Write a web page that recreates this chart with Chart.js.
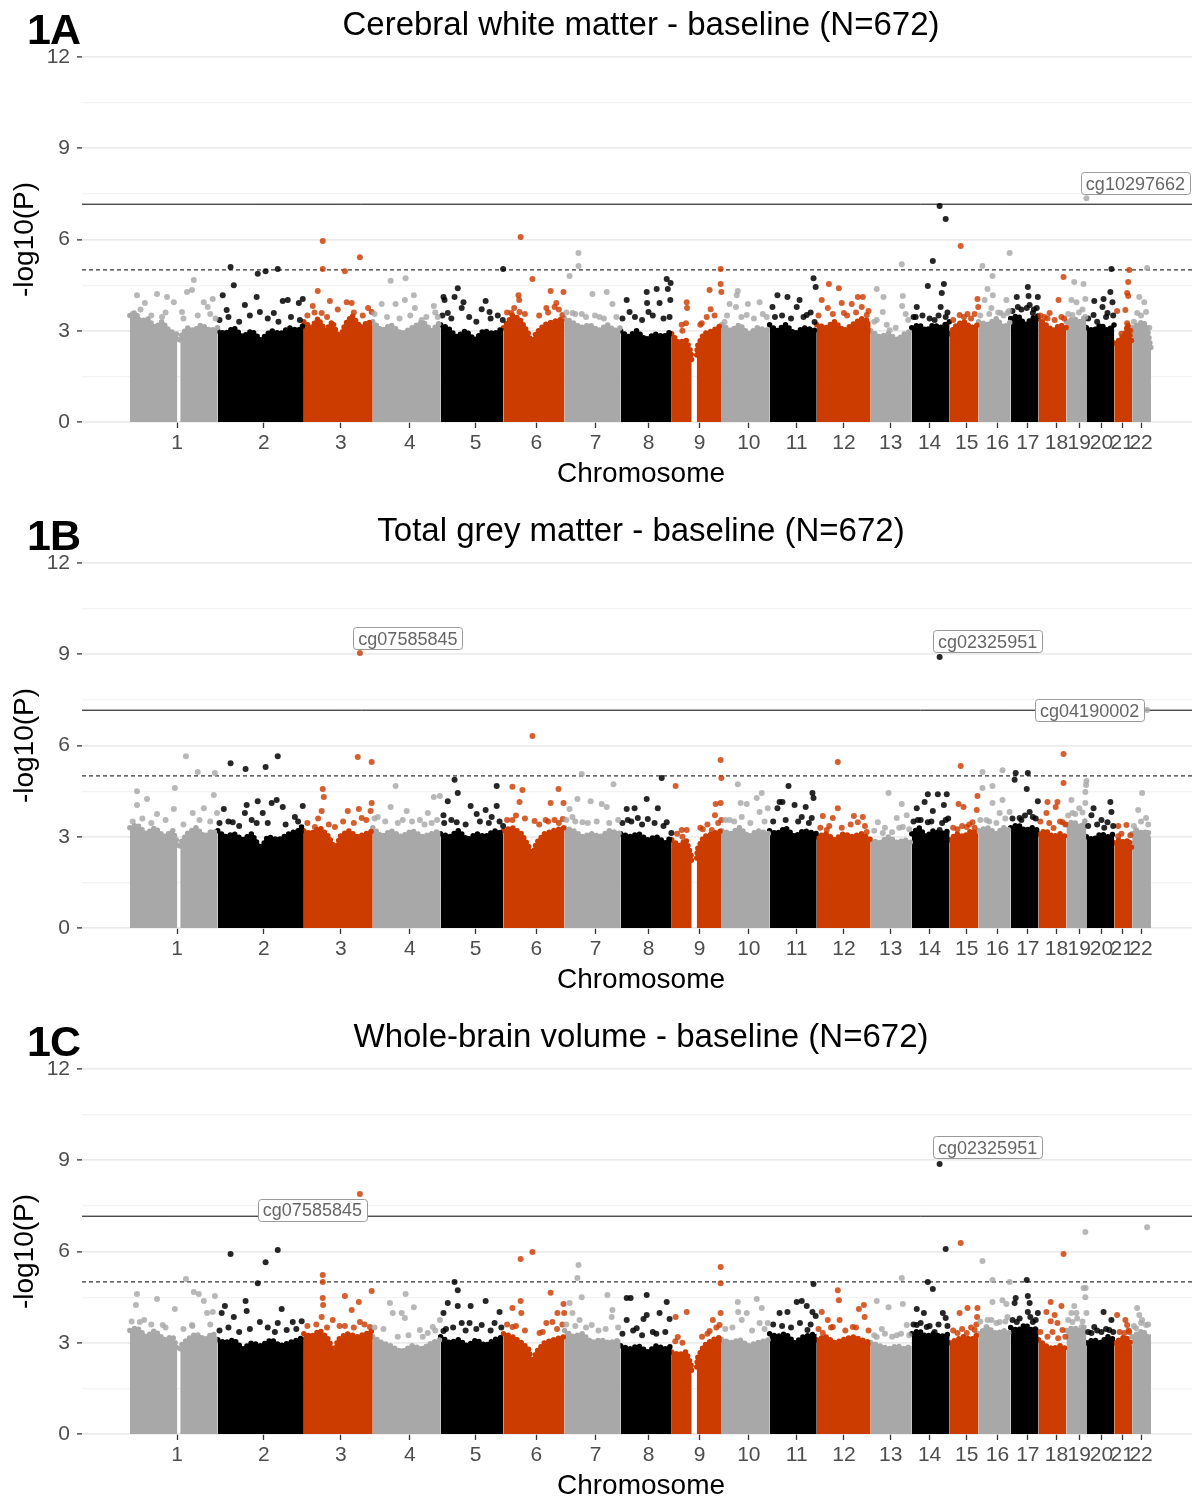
<!DOCTYPE html>
<html>
<head>
<meta charset="utf-8">
<script src="https://cdn.jsdelivr.net/npm/chart.js@4.4.1/dist/chart.umd.min.js"></script>
<style>
  body { margin: 0; background: #fff; }
  #page { position: relative; width: 1192px; height: 1499px; overflow: hidden; background: #fff; }
  .panel { position: absolute; left: 0; width: 1200px; height: 506px; }
  .tag { position: absolute; left: 27px; top: 8px; font: bold 43px 'Liberation Sans', Arial, sans-serif;
         line-height: 43px; letter-spacing: -1px; color: #000; }
  .title { position: absolute; left: 0; top: 7px; width: 1282px; text-align: center;
           font: 33px 'Liberation Sans', Arial, sans-serif; line-height: 33px; color: #000; white-space: nowrap; }
</style>
</head>
<body>
<div id="page">
  <div class="panel" style="top:0px"><canvas id="chartA" width="1200" height="506"></canvas>
    <div class="title">Cerebral white matter - baseline (N=672)</div><div class="tag">1A</div></div>
  <div class="panel" style="top:506px"><canvas id="chartB" width="1200" height="506"></canvas>
    <div class="title">Total grey matter - baseline (N=672)</div><div class="tag">1B</div></div>
  <div class="panel" style="top:1012px"><canvas id="chartC" width="1200" height="506"></canvas>
    <div class="title">Whole-brain volume - baseline (N=672)</div><div class="tag">1C</div></div>
</div>
<script>
// chromosomes, plotted span (Mb) and where each label tick sits inside it
const chromosomes = ['1','2','3','4','5','6','7','8','9','10','11','12','13','14','15','16','17','18','19','20','21','22'];
const chromLengthMb = [246,241,193,190,176,171,157,143,140,134,132,151,115,106,81,90,78,78,56,78,50,53];
const chromTickMb = [132,129,104,104,98,92,87,78,78,76,76,76,56,50,48,53,48,50,36,42,22,25];

const genomeWideLine = 7.16;
const suggestiveLine = 5;
const yTicks = [0, 1.5, 3, 4.5, 6, 7.5, 9, 10.5, 12];

// upper edge of the dense cloud of CpGs, per chromosome: [position Mb, -log10 P]
// (null = centromere gap)
const massA = [
  [[0,3.5],[15,3.6],[30,3.3],[50,3.4],[70,3.1],[90,3.3],[110,3.0],[130,2.9],[133,2.7],[136,null],[141,2.7],[142,2.8],[160,3.1],[180,3.0],[200,3.2],[225,3.0],[246,3.1]],
  [[0,3.0],[20,2.9],[45,3.1],[70,2.8],[95,3.0],[120,2.7],[150,3.0],[175,2.9],[200,3.1],[225,3.0],[241,3.2]],
  [[0,3.3],[20,3.1],[40,3.4],[60,3.0],[80,3.3],[100,2.7],[115,3.2],[135,3.5],[160,3.1],[180,3.3],[193,3.2]],
  [[0,3.3],[25,3.0],[50,3.2],[80,2.9],[110,3.1],[140,3.3],[165,3.0],[190,3.3]],
  [[0,3.2],[20,3.1],[45,2.8],[70,3.0],[95,2.7],[120,3.0],[150,2.9],[176,3.1]],
  [[0,3.1],[25,3.5],[45,3.4],[70,2.9],[80,2.5],[90,2.9],[115,3.2],[140,3.3],[171,3.4]],
  [[0,3.4],[20,3.3],[45,3.1],[70,3.2],[95,3.0],[120,3.2],[140,3.0],[157,3.1]],
  [[0,3.0],[20,2.8],[45,3.0],[70,2.7],[95,2.9],[120,2.8],[143,3.0]],
  [[0,2.9],[20,2.6],[40,2.7],[54,2.3],[56,2.0],[62,null],[70,2.2],[72,2.5],[90,2.9],[115,3.0],[140,3.2]],
  [[0,3.2],[25,3.0],[50,3.2],[75,2.9],[100,3.1],[134,3.0]],
  [[0,3.2],[20,3.0],[45,3.2],[70,2.9],[95,3.1],[132,3.0]],
  [[0,3.2],[25,3.1],[50,3.3],[75,3.0],[100,3.2],[125,3.4],[151,3.3]],
  [[0,3.0],[25,2.8],[50,2.9],[75,2.7],[95,2.9],[115,3.0]],
  [[0,3.1],[20,3.2],[40,3.0],[60,3.2],[80,3.1],[106,3.3]],
  [[0,2.9],[20,3.2],[40,3.3],[60,3.1],[81,3.2]],
  [[0,3.3],[25,3.2],[50,3.4],[70,3.1],[90,3.3]],
  [[0,3.4],[20,3.5],[40,3.2],[60,3.4],[78,3.5]],
  [[0,3.4],[20,3.2],[40,3.0],[60,3.2],[78,3.1]],
  [[0,3.3],[20,3.4],[40,3.3],[56,3.5]],
  [[0,3.1],[20,3.0],[40,3.2],[60,3.0],[78,3.2]],
  [[0,2.6],[15,2.7],[30,2.9],[38,3.2],[45,2.8],[50,2.6]],
  [[0,3.1],[15,3.2],[30,3.3],[42,3.1],[53,2.4]]
];
const massB = [
  [[0,3.3],[20,3.4],[45,3.1],[70,3.3],[95,3.0],[120,3.2],[130,2.9],[133,2.7],[136,null],[141,2.7],[142,2.8],[160,3.1],[185,3.3],[210,3.0],[230,3.2],[246,3.1]],
  [[0,3.2],[20,3.0],[45,3.1],[70,2.9],[95,3.1],[120,2.6],[140,3.0],[170,2.9],[200,3.1],[225,3.2],[241,3.4]],
  [[0,3.2],[20,3.1],[45,3.3],[70,3.0],[90,2.5],[100,3.0],[125,3.2],[150,3.0],[175,3.1],[193,3.2]],
  [[0,3.3],[25,3.0],[50,3.2],[80,3.0],[110,3.2],[140,3.0],[165,3.1],[190,3.2]],
  [[0,3.1],[25,3.0],[50,3.2],[75,2.9],[100,3.1],[125,3.0],[150,3.2],[176,3.1]],
  [[0,3.2],[25,3.3],[50,3.1],[70,2.7],[80,2.3],[92,2.8],[115,3.1],[140,3.2],[171,3.3]],
  [[0,3.3],[25,3.2],[50,3.0],[75,3.1],[100,3.0],[125,3.2],[157,3.1]],
  [[0,3.1],[25,3.0],[50,3.1],[75,2.9],[100,3.0],[125,2.8],[143,3.0]],
  [[0,2.9],[20,2.7],[40,2.9],[54,2.4],[56,2.1],[62,null],[70,2.3],[72,2.6],[90,3.0],[115,3.1],[140,3.2]],
  [[0,3.2],[25,3.1],[50,3.3],[75,3.0],[100,3.2],[134,3.1]],
  [[0,3.2],[20,3.1],[45,3.3],[70,3.0],[95,3.2],[132,3.1]],
  [[0,3.0],[25,3.1],[50,2.9],[75,3.1],[100,3.0],[125,3.1],[151,2.9]],
  [[0,2.9],[25,2.8],[50,3.0],[75,2.8],[95,2.9],[115,2.8]],
  [[0,3.1],[20,3.3],[40,3.0],[60,3.2],[80,3.1],[106,3.2]],
  [[0,2.9],[20,3.1],[40,3.0],[60,3.2],[81,3.1]],
  [[0,3.2],[25,3.3],[50,3.1],[70,3.3],[90,3.2]],
  [[0,3.3],[20,3.4],[40,3.2],[60,3.3],[78,3.2]],
  [[0,3.1],[20,3.2],[40,3.0],[60,3.1],[78,3.0]],
  [[0,3.4],[20,3.5],[40,3.3],[56,3.6]],
  [[0,3.0],[20,2.9],[40,3.1],[60,3.0],[78,3.1]],
  [[0,2.8],[15,2.9],[30,2.8],[40,2.9],[50,2.6]],
  [[0,3.1],[15,3.2],[30,3.1],[42,3.2],[53,3.0]]
];
const massC = [
  [[0,3.4],[20,3.5],[45,3.2],[70,3.4],[95,3.1],[120,3.2],[130,2.9],[133,2.7],[136,null],[141,2.8],[142,2.9],[160,3.1],[185,3.3],[210,3.1],[230,3.3],[246,3.2]],
  [[0,3.1],[20,3.0],[45,3.1],[70,2.8],[95,3.0],[120,2.9],[150,3.1],[175,2.9],[200,3.0],[225,3.1],[241,3.2]],
  [[0,3.3],[20,3.2],[45,3.4],[70,3.1],[85,2.6],[95,3.1],[120,3.3],[150,3.2],[175,3.3],[193,3.4]],
  [[0,3.2],[25,3.0],[50,2.9],[80,2.7],[110,2.9],[140,2.8],[165,3.0],[190,3.1]],
  [[0,3.2],[25,3.0],[50,3.1],[75,2.9],[100,3.1],[125,2.9],[150,3.1],[176,3.2]],
  [[0,3.3],[25,3.2],[50,3.0],[70,2.8],[80,2.3],[92,2.7],[115,3.0],[140,3.1],[171,3.2]],
  [[0,3.4],[25,3.2],[50,3.3],[75,3.0],[100,3.1],[125,3.0],[157,3.1]],
  [[0,2.9],[25,2.8],[50,2.9],[75,2.7],[100,2.9],[125,2.8],[143,2.9]],
  [[0,2.7],[20,2.6],[40,2.7],[54,2.3],[56,2.0],[62,null],[70,2.2],[72,2.5],[90,2.9],[115,3.1],[140,3.2]],
  [[0,3.1],[25,3.0],[50,3.1],[75,2.9],[100,3.0],[134,3.1]],
  [[0,3.3],[20,3.2],[45,3.3],[70,3.0],[95,3.2],[132,3.3]],
  [[0,3.1],[25,3.2],[50,3.0],[75,3.1],[100,3.2],[125,3.1],[151,3.0]],
  [[0,3.0],[25,2.9],[50,2.8],[75,2.9],[95,2.8],[115,2.9]],
  [[0,3.3],[20,3.4],[40,3.2],[60,3.3],[80,3.2],[106,3.3]],
  [[0,3.0],[20,3.1],[40,3.2],[60,3.1],[81,3.3]],
  [[0,3.3],[25,3.5],[50,3.3],[70,3.4],[90,3.3]],
  [[0,3.5],[20,3.4],[40,3.6],[60,3.4],[78,3.5]],
  [[0,3.1],[20,2.9],[40,2.8],[60,2.9],[78,2.8]],
  [[0,3.4],[20,3.5],[40,3.4],[56,3.6]],
  [[0,3.0],[20,3.1],[40,3.0],[60,3.2],[78,3.1]],
  [[0,3.0],[15,3.1],[30,3.2],[40,3.1],[50,2.9]],
  [[0,3.2],[15,3.3],[30,3.4],[42,3.2],[53,3.3]]
];

// individual CpGs standing out of the cloud: [chromosome, position Mb, -log10 P]
const hitsA = [
  [1,20,4.17],[1,42,3.91],[1,76,4.21],[1,104,4.11],[1,123,3.94],[1,160,4.27],[1,179,4.67],[1,174,4.34],[1,207,3.94],[1,232,4.04],[1,218,3.78],[1,146,3.62],[1,90,3.45],
  [2,36,5.1],[2,45,4.5],[2,14,4.17],[2,112,4.87],[2,134,4.96],[2,168,5.03],[2,109,4.11],[2,182,3.98],[2,196,4.01],[2,227,3.91],[2,238,4.04],[2,25,3.68],[2,76,3.85],[2,157,3.58],[2,118,3.62],
  [3,53,5.95],[3,53,5.03],[3,115,4.96],[3,157,5.42],[3,39,4.31],[3,25,3.81],[3,73,3.98],[3,120,3.94],[3,134,3.91],[3,190,3.62],[3,50,3.58],
  [4,50,4.64],[4,25,3.88],[4,64,3.88],[4,92,4.73],[4,115,4.17],[4,90,4.01],[4,118,3.75],[4,171,3.81],[4,182,3.45],[4,137,3.35],
  [5,8,4.11],[5,48,4.4],[5,39,4.11],[5,64,3.94],[5,126,3.98],[5,11,4.01],[5,115,3.71],[5,59,3.75],[5,137,3.62],[5,20,3.58],[5,174,3.35],[5,175,5.03],
  [6,48,6.08],[6,81,4.7],[6,132,4.31],[6,168,4.27],[6,42,4.17],[6,44,4.01],[6,120,3.75],[6,148,3.91],[6,143,3.78],[6,165,3.52],[6,22,3.58],[6,45,3.62],
  [7,39,5.56],[7,39,5.13],[7,14,4.8],[7,78,4.21],[7,118,4.27],[7,134,3.88],[7,22,3.58],[7,98,3.45],[7,48,3.55],
  [8,129,4.7],[8,140,4.57],[8,132,4.37],[8,101,4.37],[8,73,4.27],[8,139,4.01],[8,17,4.01],[8,74,3.91],[8,109,3.91],[8,25,3.62],[8,78,3.62],[8,137,3.45],
  [9,137,5.03],[9,137,4.54],[9,139,4.27],[9,106,4.34],[9,42,3.94],[9,43,3.75],[9,109,3.71],[9,84,3.25],[9,98,3.45],[9,40,3.25],[9,28,3.2],
  [10,45,4.31],[10,42,4.17],[10,22,3.88],[10,40,3.78],[10,73,3.88],[10,106,3.94],[10,70,3.52],[10,126,3.45],[10,8,3.29],
  [11,22,4.17],[11,50,4.11],[11,8,3.78],[11,76,3.78],[11,123,4.73],[11,129,4.44],[11,84,4.01],[11,104,3.52],[11,126,3.29],
  [12,34,4.54],[12,62,4.4],[12,14,4.01],[12,31,3.75],[12,70,3.91],[12,98,3.88],[12,115,4.11],[12,129,4.11],[12,126,3.78],[12,140,3.52],[12,76,3.58],
  [13,17,4.37],[13,36,4.11],[13,87,5.19],[13,90,4.14],[13,88,3.81],[13,98,3.55],[13,17,3.35],[13,34,3.62],[13,53,3.02],
  [14,78,7.1],[14,95,6.67],[14,59,5.29],[14,45,4.47],[14,90,4.54],[14,84,4.24],[14,14,3.78],[14,81,3.78],[14,11,3.45],[14,95,3.45],[14,64,3.35],
  [15,31,5.79],[15,78,4.04],[15,80,3.78],[15,28,3.52],[15,50,3.55],[15,70,3.55],
  [16,87,5.56],[16,11,5.13],[16,39,4.8],[16,25,4.37],[16,40,4.17],[16,17,4.01],[16,78,4.01],[16,36,3.75],[16,62,3.58],[16,81,3.58],
  [17,48,4.44],[17,17,4.11],[17,50,4.14],[17,76,4.11],[17,53,3.85],[17,73,3.75],[17,20,3.78],[17,62,3.58],
  [18,70,4.77],[18,56,4.01],[18,31,3.58],[18,64,3.45],[18,17,3.45],
  [19,56,7.36],[19,22,4.6],[19,48,4.54],[19,14,4.01],[19,28,3.94],[19,53,4.04],[19,17,3.52],[19,53,3.45],
  [20,70,5.03],[20,67,4.27],[20,22,3.98],[20,48,4.04],[20,73,3.94],[20,20,3.52],[20,45,3.78],[20,59,3.58],
  [21,42,5.0],[21,39,4.6],[21,36,4.24],[21,39,4.14],[21,8,3.65],[21,31,3.68],[21,36,3.25],
  [22,42,5.06],[22,20,4.11],[22,34,3.94],[22,39,3.62],[22,14,3.58]
];
const hitsB = [
  [1,157,5.65],[1,190,5.13],[1,238,5.1],[1,20,4.5],[1,48,4.24],[1,126,4.6],[1,235,4.37],[1,20,4.04],[1,123,3.91],[1,176,3.78],[1,207,3.94],[1,76,3.75],[1,244,3.78],
  [2,36,5.42],[2,78,5.23],[2,134,5.29],[2,168,5.65],[2,17,3.91],[2,81,4.04],[2,112,4.17],[2,151,4.11],[2,165,4.21],[2,182,3.98],[2,238,4.01],[2,76,3.78],[2,126,3.78],[2,42,3.48],[2,109,3.45],[2,216,3.65],
  [3,157,9.04],[3,151,5.62],[3,190,5.46],[3,53,4.57],[3,56,4.31],[3,190,4.11],[3,50,3.85],[3,123,3.85],[3,154,3.91],[3,162,3.62],[3,187,3.85],[3,87,3.32],[3,31,3.32],
  [4,64,4.67],[4,50,3.98],[4,14,3.65],[4,95,3.85],[4,171,4.31],[4,188,4.34],[4,154,3.78],[4,132,3.55],[4,84,3.55],[4,165,3.45],
  [5,39,4.87],[5,48,4.44],[5,20,4.17],[5,157,4.67],[5,84,4.01],[5,157,4.01],[5,126,3.88],[5,101,3.75],[5,8,3.71],[5,45,3.48],[5,143,3.65],[5,175,3.35],
  [6,81,6.31],[6,25,4.64],[6,53,4.54],[6,154,4.57],[6,132,4.11],[6,168,4.11],[6,45,4.14],[6,25,3.55],[6,87,3.52],[6,118,3.55],[6,143,3.55],[6,166,3.58],
  [7,48,5.06],[7,137,4.73],[7,36,4.24],[7,73,4.17],[7,104,4.08],[7,118,3.98],[7,14,3.91],[7,22,3.65],[7,50,3.48],
  [8,115,4.93],[8,73,4.24],[8,104,3.94],[8,17,3.91],[8,39,3.94],[8,48,3.62],[8,76,3.58],[8,20,3.55],[8,129,3.48],[8,142,3.12],
  [9,11,4.67],[9,137,5.52],[9,139,4.93],[9,123,4.08],[9,137,4.11],[9,121,3.71],[9,42,3.22],[9,28,3.22],[9,87,3.25],[9,112,3.22],[9,139,3.55],
  [10,45,4.73],[10,112,4.44],[10,98,4.27],[10,53,4.11],[10,70,4.08],[10,106,3.81],[10,56,3.65],[10,129,3.94],[10,22,3.55],
  [11,53,4.67],[11,28,4.14],[11,36,4.14],[11,22,3.94],[11,70,4.04],[11,120,4.44],[11,123,4.27],[11,101,3.98],[11,90,3.65],[11,118,3.62],
  [12,59,5.46],[12,59,3.94],[12,17,3.68],[12,45,3.62],[12,104,3.68],[12,129,3.65],[12,115,3.48],[12,140,3.16],[12,28,3.22],
  [13,50,4.44],[13,87,4.08],[13,73,3.62],[13,101,3.71],[13,20,3.48],[13,90,3.32],[13,34,3.12],
  [14,78,8.91],[14,45,4.4],[14,73,4.4],[14,98,4.4],[14,36,4.14],[14,14,3.94],[14,59,3.85],[14,90,4.04],[14,17,3.55],[14,45,3.48],[14,95,3.55],[14,78,3.22],
  [15,31,5.33],[15,25,4.08],[15,39,3.98],[15,78,4.34],[15,76,3.88],[15,64,3.48],[15,22,3.25],[15,48,3.32],
  [16,11,5.13],[16,67,5.19],[16,11,4.6],[16,39,4.67],[16,67,4.21],[16,39,4.11],[16,59,3.78],[16,87,3.81],[16,22,3.55],
  [17,14,5.1],[17,48,5.1],[17,11,4.87],[17,45,4.57],[17,76,4.17],[17,53,3.81],[17,25,3.62],[17,62,3.65],
  [18,70,5.72],[18,70,4.77],[18,25,4.14],[18,53,4.14],[18,67,3.48],[18,48,3.98],[18,22,3.78],[18,42,3.29],
  [19,56,4.83],[19,53,4.47],[19,14,4.21],[19,53,4.11],[19,36,3.94],[19,17,3.78],[19,55,4.7],
  [20,67,4.14],[20,20,3.94],[20,70,3.81],[20,42,3.55],[20,14,3.71],[20,59,3.48],
  [21,11,3.35],[21,34,3.39],[21,11,3.02],
  [22,42,7.17],[22,28,4.44],[22,17,3.88],[22,39,3.62],[22,11,3.22]
];
const hitsC = [
  [1,157,5.1],[1,20,4.6],[1,76,4.44],[1,179,4.67],[1,193,4.6],[1,238,4.54],[1,207,4.37],[1,17,4.24],[1,126,4.11],[1,216,3.98],[1,232,4.01],[1,174,3.58],[1,92,3.58],[1,28,3.68],
  [2,36,5.92],[2,134,5.65],[2,168,6.05],[2,112,4.96],[2,78,4.37],[2,81,4.04],[2,20,4.21],[2,179,4.11],[2,11,3.98],[2,45,3.85],[2,118,3.68],[2,168,3.65],[2,210,3.68],[2,235,3.71],[2,193,3.42],
  [3,157,7.89],[3,53,5.23],[3,53,5.0],[3,53,4.47],[3,54,4.24],[3,115,4.54],[3,154,4.34],[3,190,4.7],[3,134,4.08],[3,157,3.68],[3,50,3.85],[3,81,3.75],[3,115,3.55],[3,185,3.52],
  [4,48,4.31],[4,56,3.98],[4,92,4.6],[4,115,4.17],[4,81,3.98],[4,90,3.81],[4,132,3.42],[4,168,3.52],[4,188,3.75],[4,154,3.32],
  [5,39,5.0],[5,48,4.73],[5,20,4.31],[5,48,4.21],[5,84,4.21],[5,126,4.37],[5,8,3.98],[5,165,4.01],[5,59,3.65],[5,81,3.65],[5,115,3.58],[5,151,3.65],[5,8,3.39],
  [6,48,5.75],[6,81,5.98],[6,132,4.64],[6,168,4.27],[6,48,4.37],[6,25,4.14],[6,50,3.98],[6,151,3.98],[6,170,3.98],[6,120,3.65],[6,137,3.68],[6,25,3.52],[6,101,3.32],
  [7,39,5.56],[7,36,5.13],[7,48,4.5],[7,120,4.57],[7,14,4.31],[7,134,4.08],[7,22,3.98],[7,42,3.75],[7,76,3.58],[7,132,3.85],
  [8,73,4.57],[8,17,4.47],[8,28,4.47],[8,129,4.34],[8,73,3.91],[8,17,3.75],[8,64,3.78],[8,109,3.98],[8,137,3.78],[8,45,3.48],[8,90,3.35],
  [9,137,5.49],[9,137,4.96],[9,42,4.01],[9,137,3.98],[9,115,3.75],[9,106,3.39],[9,134,3.58],[9,11,3.85],[9,17,3.19],
  [10,45,4.34],[10,98,4.44],[10,46,4.01],[10,70,3.98],[10,112,4.14],[10,56,3.75],[10,106,3.65],[10,129,3.65],
  [11,76,4.34],[11,28,3.98],[11,50,4.01],[11,123,4.93],[11,90,4.37],[11,104,4.21],[11,120,4.01],[11,129,3.88],[11,106,3.42],
  [12,59,4.73],[12,62,4.4],[12,14,4.01],[12,31,3.75],[12,64,3.75],[12,118,4.11],[12,132,4.24],[12,134,3.85],[12,101,3.52],[12,45,3.52],[12,17,3.32],
  [13,87,5.13],[13,17,4.37],[13,50,4.17],[13,90,4.27],[13,101,3.58],[13,31,3.45],[13,73,3.25],[13,17,3.19],
  [14,78,8.88],[14,95,6.08],[14,45,5.0],[14,59,4.77],[14,14,4.11],[14,34,3.98],[14,87,3.98],[14,95,3.81],[14,14,3.58],[14,42,3.52],[14,64,3.35],
  [15,31,6.28],[15,50,4.14],[15,28,3.98],[15,78,4.14],[15,22,3.32],[15,48,3.32],[15,70,3.42],[15,77,3.85],
  [16,11,5.69],[16,39,5.06],[16,39,4.34],[16,67,4.4],[16,78,4.27],[16,36,3.75],[16,59,3.68],[16,81,3.85],[16,22,3.52],[16,87,5.0],
  [17,45,5.06],[17,48,4.54],[17,14,4.47],[17,11,4.31],[17,53,4.31],[17,48,4.01],[17,76,3.98],[17,17,3.68],[17,62,3.68],[17,36,3.42],
  [18,70,5.92],[18,34,4.34],[18,64,4.21],[18,22,4.01],[18,45,3.91],[18,34,3.71],[18,53,3.65],[18,39,3.35],[18,67,3.42],
  [19,53,6.64],[19,48,4.8],[19,54,4.8],[19,53,4.5],[19,22,4.21],[19,14,3.98],[19,28,3.98],[19,56,3.98],[19,17,3.68],[19,42,3.52],
  [20,48,4.01],[20,70,3.75],[20,22,3.52],[20,42,3.35],[20,14,3.32],[20,64,3.42],
  [21,8,3.91],[21,31,3.75],[21,36,3.58],[21,28,3.32],[21,42,3.35],
  [22,42,6.8],[22,14,4.14],[22,20,3.91],[22,39,3.58],[22,11,3.48],[22,28,3.75]
];

// CpGs crowding just above the cloud edge: [chromosome, position Mb, -log10 P]
const crowdA = [
  [1,8,3.55],[1,30,3.7],[1,60,3.5],[1,100,3.6],[1,150,3.4],[1,190,3.5],[1,225,3.55],[1,240,3.4],
  [2,5,3.35],[2,30,3.45],[2,60,3.3],[2,90,3.5],[2,140,3.4],[2,170,3.3],[2,205,3.45],[2,230,3.35],
  [3,10,3.5],[3,30,3.6],[3,65,3.45],[3,95,3.7],[3,140,3.6],[3,165,3.5],[3,180,3.75],
  [4,5,3.55],[4,40,3.45],[4,75,3.4],[4,105,3.5],[4,150,3.45],[4,175,3.6],
  [5,5,3.5],[5,30,3.4],[5,80,3.45],[5,100,3.3],[5,140,3.4],[5,160,3.5],
  [6,10,3.6],[6,30,3.75],[6,60,3.55],[6,100,3.5],[6,125,3.6],[6,155,3.7],
  [7,5,3.6],[7,30,3.55],[7,60,3.45],[7,85,3.5],[7,110,3.4],[7,145,3.45],
  [8,5,3.4],[8,40,3.45],[8,60,3.35],[8,90,3.5],[8,120,3.4],
  [9,30,3.0],[9,80,3.2],[9,120,3.5],
  [10,15,3.5],[10,55,3.45],[10,90,3.4],[10,115,3.55],
  [11,15,3.45],[11,35,3.5],[11,60,3.4],[11,95,3.45],[11,115,3.6],
  [12,5,3.5],[12,45,3.55],[12,85,3.5],[12,110,3.6],[12,145,3.65],
  [13,10,3.3],[13,45,3.2],[13,70,3.1],[13,105,3.35],
  [14,5,3.45],[14,30,3.5],[14,50,3.4],[14,75,3.5],[14,100,3.6],
  [15,10,3.35],[15,40,3.45],[15,60,3.4],
  [16,5,3.5],[16,30,3.55],[16,55,3.6],[16,70,3.5],[16,85,3.65],
  [17,5,3.65],[17,30,3.7],[17,45,3.75],[17,65,3.7],
  [18,5,3.5],[18,25,3.4],[18,45,3.35],[18,72,3.4],
  [19,5,3.55],[19,35,3.6],[19,45,3.7],
  [20,5,3.4],[20,30,3.3],[20,55,3.45],[20,75,3.5],
  [21,20,2.9],[21,45,3.0],
  [22,5,3.3],[22,25,3.5],[22,48,3.1]
];
const crowdB = [
  [1,8,3.5],[1,35,3.6],[1,60,3.45],[1,100,3.55],[1,150,3.4],[1,195,3.55],[1,225,3.5],
  [2,5,3.45],[2,30,3.5],[2,60,3.35],[2,95,3.55],[2,140,3.45],[2,190,3.4],[2,225,3.5],
  [3,10,3.45],[3,40,3.6],[3,70,3.4],[3,110,3.5],[3,140,3.45],[3,175,3.55],
  [4,5,3.6],[4,35,3.5],[4,70,3.45],[4,110,3.5],[4,145,3.4],[4,180,3.55],
  [5,10,3.45],[5,30,3.55],[5,70,3.4],[5,110,3.5],[5,135,3.45],[5,165,3.5],
  [6,10,3.55],[6,35,3.7],[6,60,3.6],[6,100,3.4],[6,125,3.5],[6,155,3.45],
  [7,5,3.55],[7,30,3.5],[7,65,3.45],[7,90,3.5],[7,125,3.45],[7,150,3.55],
  [8,5,3.45],[8,30,3.5],[8,60,3.4],[8,95,3.45],[8,120,3.35],
  [9,15,3.1],[9,30,3.0],[9,80,3.3],[9,100,3.4],[9,130,3.45],
  [10,10,3.55],[10,35,3.5],[10,80,3.45],[10,120,3.5],
  [11,10,3.5],[11,45,3.55],[11,80,3.5],[11,110,3.45],
  [12,10,3.3],[12,35,3.35],[12,70,3.3],[12,95,3.4],[12,135,3.35],
  [13,10,3.2],[13,40,3.3],[13,60,3.15],[13,80,3.3],[13,108,3.25],
  [14,5,3.5],[14,25,3.55],[14,55,3.5],[14,85,3.45],[14,102,3.6],
  [15,10,3.3],[15,35,3.35],[15,55,3.4],[15,70,3.3],
  [16,5,3.55],[16,30,3.5],[16,50,3.45],[16,75,3.6],
  [17,5,3.6],[17,30,3.55],[17,40,3.7],[17,70,3.6],
  [18,5,3.5],[18,30,3.45],[18,60,3.5],[18,75,3.4],
  [19,5,3.7],[19,25,3.75],[19,45,3.8],
  [20,5,3.35],[20,30,3.4],[20,50,3.3],[20,75,3.35],
  [21,20,3.1],[21,45,3.05],
  [22,5,3.35],[22,25,3.5],[22,45,3.4]
];
const crowdC = [
  [1,5,3.7],[1,40,3.75],[1,60,3.6],[1,100,3.5],[1,150,3.45],[1,175,3.55],[1,225,3.6],
  [2,5,3.4],[2,30,3.5],[2,60,3.35],[2,90,3.45],[2,140,3.5],[2,160,3.35],[2,220,3.45],
  [3,10,3.55],[3,35,3.6],[3,65,3.5],[3,100,3.55],[3,140,3.5],[3,170,3.6],
  [4,5,3.5],[4,30,3.45],[4,70,3.2],[4,100,3.25],[4,140,3.2],[4,175,3.4],
  [5,15,3.45],[5,35,3.5],[5,70,3.4],[5,100,3.45],[5,140,3.4],[5,170,3.5],
  [6,10,3.6],[6,35,3.55],[6,60,3.4],[6,110,3.35],[6,150,3.45],[6,165,3.6],
  [7,5,3.6],[7,30,3.55],[7,60,3.5],[7,95,3.4],[7,115,3.45],[7,150,3.5],
  [8,5,3.3],[8,35,3.4],[8,60,3.25],[8,100,3.3],[8,125,3.35],
  [9,10,3.05],[9,30,3.0],[9,85,3.2],[9,100,3.3],[9,125,3.5],
  [10,10,3.45],[10,30,3.5],[10,85,3.4],[10,120,3.45],
  [11,10,3.6],[11,35,3.55],[11,60,3.5],[11,85,3.65],[11,115,3.6],
  [12,5,3.45],[12,40,3.5],[12,80,3.4],[12,110,3.5],[12,145,3.4],
  [13,10,3.25],[13,40,3.3],[13,60,3.2],[13,85,3.3],[13,108,3.25],
  [14,5,3.6],[14,25,3.65],[14,50,3.55],[14,75,3.6],[14,100,3.55],
  [15,10,3.4],[15,35,3.45],[15,60,3.5],[15,75,3.6],
  [16,5,3.7],[16,25,3.75],[16,50,3.65],[16,75,3.7],
  [17,5,3.75],[17,25,3.8],[17,55,3.85],[17,70,3.75],
  [18,5,3.35],[18,25,3.2],[18,55,3.15],[18,75,3.2],
  [19,5,3.75],[19,30,3.8],[19,45,3.7],
  [20,5,3.35],[20,30,3.4],[20,55,3.45],[20,75,3.35],
  [21,15,3.35],[21,40,3.4],
  [22,5,3.55],[22,25,3.65],[22,45,3.6]
];

// annotated probes
const labelsA = [{probe: 'cg10297662', chr: 19, pos: 56, p: 7.36}];
const labelsB = [
  {probe: 'cg07585845', chr: 3, pos: 157, p: 9.04},
  {probe: 'cg02325951', chr: 14, pos: 78, p: 8.91},
  {probe: 'cg04190002', chr: 22, pos: 42, p: 7.17}
];
const labelsC = [
  {probe: 'cg07585845', chr: 3, pos: 157, p: 7.89},
  {probe: 'cg02325951', chr: 14, pos: 78, p: 8.88}
];

const chromColors = ['#a8a8a8', '#000000', '#cc3c00'];
const dotColors = ['rgba(168,168,168,0.82)', 'rgba(0,0,0,0.85)', 'rgba(204,60,0,0.82)'];
const FONT = "'Liberation Sans', Arial, Helvetica, sans-serif";

const offsets = [];
let acc = 0;
chromLengthMb.forEach(len => { offsets.push(acc); acc += len; });
const xMin = -134, xMax = 2996;

Chart.defaults.font.family = FONT;
Chart.defaults.animation = false;

// ggrepel-style boxed labels next to the annotated points
const probeLabels = {
  id: 'probeLabels',
  afterDatasetsDraw(chart, args, opts) {
    const { ctx, scales: { x, y } } = chart;
    ctx.save();
    ctx.font = '18px ' + FONT;
    ctx.textAlign = 'center';
    ctx.textBaseline = 'middle';
    opts.items.forEach((lab, i) => {
      const cx = x.getPixelForValue(offsets[lab.chr - 1] + lab.pos) + opts.nudges[i][0];
      const cy = y.getPixelForValue(lab.p) + opts.nudges[i][1];
      const w = ctx.measureText(lab.probe).width + 10, h = 22;
      ctx.beginPath();
      ctx.roundRect(Math.round(cx - w / 2) + 0.5, Math.round(cy - h / 2) + 0.5, Math.round(w), h, 3);
      ctx.fillStyle = '#ffffff';
      ctx.fill();
      ctx.strokeStyle = '#9a9a9a';
      ctx.lineWidth = 1;
      ctx.stroke();
      ctx.fillStyle = '#666666';
      ctx.fillText(lab.probe, cx, cy + 1.5);
    });
    ctx.restore();
  }
};

function drawPanel(canvasId, mass, hits, crowd, labels, nudges) {
  const points = crowd.concat(hits);
  const datasets = [];
  for (let k = 0; k < 3; k++) {
    datasets.push({
      type: 'scatter',
      data: points.filter(h => (h[0] - 1) % 3 === k).map(h => ({ x: offsets[h[0] - 1] + h[1], y: h[2] })),
      backgroundColor: dotColors[k],
      borderWidth: 0,
      pointRadius: 3,
      order: 1
    });
  }
  datasets.push({
    type: 'line',
    data: [{ x: xMin, y: genomeWideLine }, { x: xMax, y: genomeWideLine }],
    borderColor: '#000000', borderWidth: 1, pointRadius: 0, fill: false, order: 2
  });
  datasets.push({
    type: 'line',
    data: [{ x: xMin, y: suggestiveLine }, { x: xMax, y: suggestiveLine }],
    borderColor: '#000000', borderWidth: 1, borderDash: [4, 3], pointRadius: 0, fill: false, order: 2
  });
  mass.forEach((env, i) => {
    datasets.push({
      type: 'line',
      data: env.map(v => ({ x: offsets[i] + v[0], y: v[1] })),
      // a beaded rim of round dots along the top of the cloud
      borderColor: chromColors[i % 3],
      borderWidth: 5.5,
      borderDash: [0, 5],
      borderCapStyle: 'round',
      backgroundColor: chromColors[i % 3],
      fill: 'origin',
      spanGaps: false,
      pointRadius: 0,
      tension: 0,
      order: 3
    });
  });

  new Chart(document.getElementById(canvasId), {
    type: 'scatter',
    data: { datasets },
    options: {
      responsive: false,
      animation: false,
      layout: { padding: { top: 57, left: 0, right: 0, bottom: 0 }, autoPadding: false },
      plugins: {
        legend: { display: false },
        tooltip: { enabled: false },
        title: { display: false },
        probeLabels: { items: labels, nudges: nudges }
      },
      scales: {
        x: {
          type: 'linear',
          min: xMin,
          max: xMax,
          afterBuildTicks: scale => {
            scale.ticks = chromTickMb.map((t, i) => ({ value: offsets[i] + t }));
          },
          afterFit: scale => { scale.height = 84; },
          ticks: {
            autoSkip: false,
            maxRotation: 0,
            minRotation: 0,
            padding: 3,
            color: '#4d4d4d',
            font: { size: 21 },
            callback: (v, i) => chromosomes[i]
          },
          grid: { drawOnChartArea: false, drawTicks: true, tickLength: 6, tickColor: '#333', tickWidth: 1.3 },
          border: { display: false },
          title: {
            display: true,
            text: 'Chromosome',
            color: '#000',
            font: { size: 28 },
            padding: { top: 0, bottom: 15 }
          }
        },
        y: {
          min: 0,
          max: 12,
          afterBuildTicks: scale => { scale.ticks = yTicks.map(v => ({ value: v })); },
          afterFit: scale => { scale.width = 82; },
          ticks: {
            padding: 7,
            color: '#4d4d4d',
            font: { size: 21 },
            callback: v => (v % 3 === 0 ? String(v) : '')
          },
          grid: {
            color: c => (c.tick && c.tick.value % 3 === 0 ? '#ebebeb' : '#f3f3f3'),
            lineWidth: c => (c.tick && c.tick.value % 3 === 0 ? 1.8 : 1.2),
            tickColor: c => (c.tick && c.tick.value % 3 === 0 ? '#333' : 'rgba(0,0,0,0)'),
            tickLength: 5,
            tickWidth: 1.3
          },
          border: { display: false },
          title: {
            display: true,
            text: '-log10(P)',
            color: '#000',
            font: { size: 28 },
            padding: { top: 8, bottom: 0 }
          }
        }
      }
    },
    plugins: [probeLabels]
  });
}

drawPanel('chartA', massA, hitsA, crowdA, labelsA, [[49, -15]]);
drawPanel('chartB', massB, hitsB, crowdB, labelsB, [[48, -15], [48, -15.5], [-57.5, 0.5]]);
drawPanel('chartC', massC, hitsC, crowdC, labelsC, [[-47.5, 15.5], [48, -16.5]]);
</script>
</body>
</html>
